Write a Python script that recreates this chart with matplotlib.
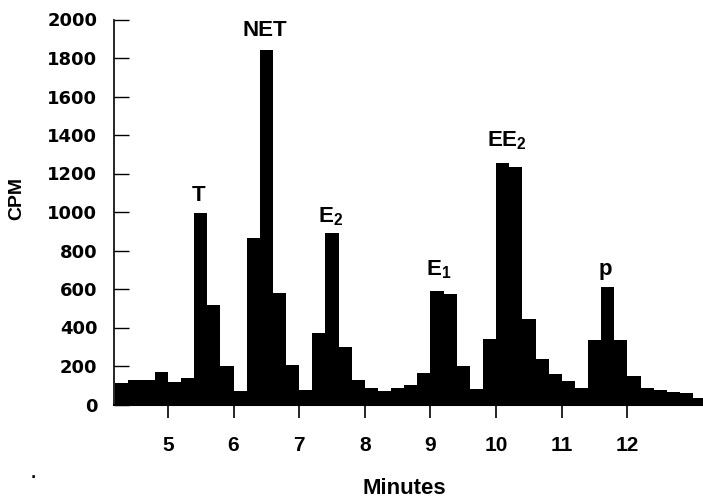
import numpy as np
import matplotlib
matplotlib.use('Agg')
import matplotlib.pyplot as plt

# radioactivity trace, 0.2 min fractions starting at 4.2 min
bin_width = 0.2
bin_start = np.round(np.arange(4.2, 13.05, bin_width), 1)
cpm = [110, 125, 125, 170, 115, 140, 995, 515, 198, 72,
       865, 1840, 578, 205, 77, 370, 890, 298, 125, 87,
       70, 88, 103, 163, 590, 575, 198, 79, 342, 1255,
       1232, 443, 237, 156, 120, 86, 337, 612, 337, 150,
       87, 75, 66, 58, 35]

# peak labels
peak_names = ['T', 'NET', 'E$_2$', 'E$_1$', 'EE$_2$', 'p']
peak_x = [5.47, 6.47, 7.47, 9.13, 10.17, 11.67]
peak_y = [1057, 1914, 944, 673, 1339, 673]

xticks = [5, 6, 7, 8, 9, 10, 11, 12]
yticks = list(range(0, 2001, 200))

plt.rcParams['mathtext.fontset'] = 'custom'
plt.rcParams['mathtext.rm'] = 'Liberation Sans:bold'
plt.rcParams['mathtext.default'] = 'rm'

fig = plt.figure(figsize=(7.03, 4.99), dpi=100)
ax = fig.add_axes([114/703, 94.5/499, 589/703, 385/499])

ax.bar(bin_start, cpm, width=bin_width, align='edge', color='black', linewidth=0)

ax.set_xlim(4.18, 13.15)
ax.set_ylim(0, 2000)
ax.set_xticks(xticks)
ax.set_yticks(yticks)

for side in ['top', 'right']:
    ax.spines[side].set_visible(False)
ax.spines['left'].set_linewidth(1.2)
ax.spines['bottom'].set_linewidth(1.5)

ax.tick_params(axis='y', direction='in', length=11, width=1, pad=12)
ax.tick_params(axis='x', direction='out', length=9.5, width=1.2, pad=13)
for lab in ax.get_yticklabels():
    lab.set_fontfamily('DejaVu Sans')
    lab.set_fontweight('bold')
    lab.set_fontsize(13)
for lab in ax.get_xticklabels():
    lab.set_fontfamily('Liberation Sans')
    lab.set_fontweight('bold')
    lab.set_fontsize(15)

for name, px, py in zip(peak_names, peak_x, peak_y):
    ax.text(px, py, name, ha='center', va='baseline', fontsize=16,
            fontweight='bold', family='Liberation Sans')

fig.text(404/703, 5/499, 'Minutes', ha='center', va='baseline', fontsize=16,
         fontweight='bold', family='Liberation Sans')
fig.text(16.5/703, (499-199)/499, 'CPM', ha='center', va='center', rotation=90,
         fontsize=14, fontweight='bold', family='Liberation Sans')
# stray mark in the scan
fig.text(33/703, (499-474)/499, '.', ha='center', va='center', fontsize=10,
         fontweight='bold')

fig.savefig('out.png', dpi=100)
